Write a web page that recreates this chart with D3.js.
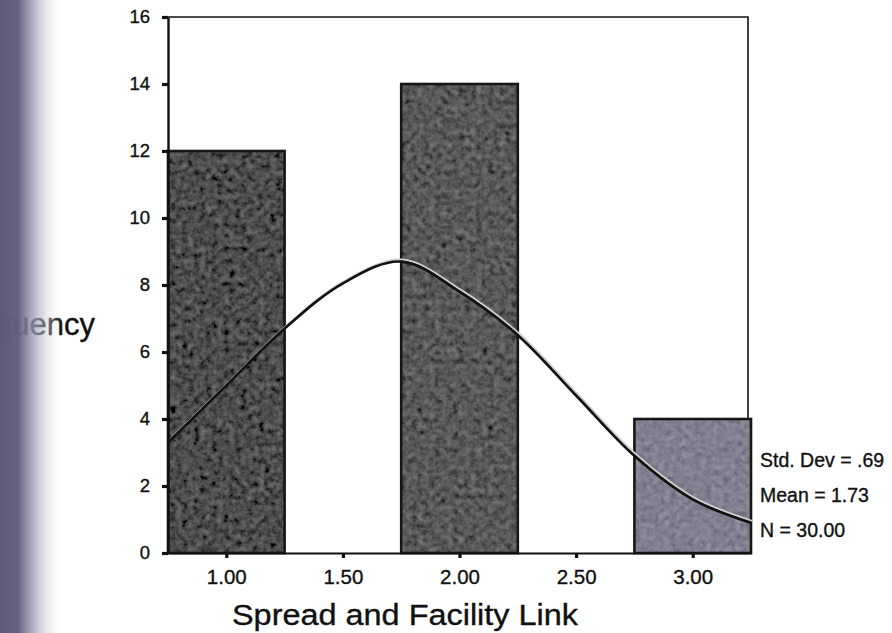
<!DOCTYPE html>
<html>
<head>
<meta charset="utf-8">
<script src="https://cdn.jsdelivr.net/npm/d3@7"></script>
<style>
  body { margin: 0; background: #fff; }
  svg text { font-family: "Liberation Sans", Arial, sans-serif; fill: #111; stroke: #111; stroke-width: 0.35px; }
</style>
</head>
<body>
<div id="chart"></div>
<script>
// histogram bins (centre of each bin) and counts
const binCenters = [1.0, 2.0, 3.0];
const counts = [12, 14, 4];
const binColors = ["#4d4d4d", "#595959", "#827f90"];
const binWidth = 0.5;

// normal curve
const curveX = [0.75, 1.0, 1.25, 1.5, 1.75, 2.0, 2.25, 2.5, 2.75, 3.0, 3.25];
const curveY = [3.3, 5.0, 6.7, 8.05, 8.7, 7.8, 6.5, 4.7, 2.9, 1.6, 0.9];

const yTicks = [0, 2, 4, 6, 8, 10, 12, 14, 16];
const xTicks = [1.0, 1.5, 2.0, 2.5, 3.0];
const statLines = ["Std. Dev = .69", "Mean = 1.73", "N = 30.00"];

const width = 892;
const height = 633;
const plotLeft = 168, plotRight = 751, plotTop = 17, plotBottom = 553;

const svg = d3.select("#chart")
  .append("svg")
  .attr("width", width)
  .attr("height", height);

const defs = svg.append("defs");

// blotchy print texture for the bars
const grain = defs.append("filter")
  .attr("id", "grain")
  .attr("x", 0).attr("y", 0).attr("width", 1).attr("height", 1);
grain.append("feTurbulence")
  .attr("type", "fractalNoise")
  .attr("baseFrequency", 0.17)
  .attr("numOctaves", 3)
  .attr("seed", 11)
  .attr("result", "noise");
grain.append("feColorMatrix")
  .attr("in", "noise")
  .attr("type", "matrix")
  .attr("values", "0.33 0.33 0.33 0 0  0.33 0.33 0.33 0 0  0.33 0.33 0.33 0 0  0 0 0 0 1")
  .attr("result", "grey");
grain.append("feComposite")
  .attr("in", "SourceGraphic")
  .attr("in2", "grey")
  .attr("operator", "arithmetic")
  .attr("k1", 0).attr("k2", 1).attr("k3", 0.38).attr("k4", -0.19)
  .attr("result", "mix");
grain.append("feComposite")
  .attr("in", "mix")
  .attr("in2", "SourceGraphic")
  .attr("operator", "in");

// dark scanner edge on the left
const band = defs.append("linearGradient")
  .attr("id", "band")
  .attr("x1", 0).attr("x2", 1).attr("y1", 0).attr("y2", 0);
[[0, "#5a5977", 1], [0.3, "#615f7d", 0.97], [0.55, "#9d9cb3", 0.75],
 [0.8, "#d8d8e3", 0.4], [1, "#ffffff", 0]].forEach((s) => {
  band.append("stop")
    .attr("offset", s[0])
    .attr("stop-color", s[1])
    .attr("stop-opacity", s[2]);
});

const xScale = d3.scaleLinear().domain([0.75, 3.25]).range([plotLeft, plotRight]);
const yScale = d3.scaleLinear().domain([0, 16]).range([plotBottom, plotTop]);

// frame (top and right)
svg.append("path")
  .attr("d", `M${plotLeft},${plotTop}H${plotRight - 3}V${plotBottom}`)
  .attr("fill", "none")
  .attr("stroke", "#111")
  .attr("stroke-width", 1.6);

// bars
const barX = (i) => xScale(binCenters[i] - binWidth / 2);
const barW = (i) => xScale(binCenters[i] + binWidth / 2) - xScale(binCenters[i] - binWidth / 2);

svg.selectAll("rect.bar")
  .data(counts)
  .enter()
  .append("rect")
  .attr("class", "bar")
  .attr("x", (d, i) => barX(i))
  .attr("y", (d) => yScale(d))
  .attr("width", (d, i) => barW(i))
  .attr("height", (d) => yScale(0) - yScale(d))
  .attr("fill", (d, i) => binColors[i])
  .attr("filter", "url(#grain)");

svg.selectAll("rect.edge")
  .data(counts)
  .enter()
  .append("rect")
  .attr("class", "edge")
  .attr("x", (d, i) => barX(i))
  .attr("y", (d) => yScale(d))
  .attr("width", (d, i) => barW(i))
  .attr("height", (d) => yScale(0) - yScale(d))
  .attr("fill", "none")
  .attr("stroke", "#161616")
  .attr("stroke-width", 2.6);

// normal curve
const line = d3.line()
  .x((d) => xScale(d[0]))
  .y((d) => yScale(d[1]))
  .curve(d3.curveCatmullRom.alpha(0.5));
const curvePoints = curveX.map((x, i) => [x, curveY[i]]);

svg.append("path")
  .datum(curvePoints)
  .attr("fill", "none")
  .attr("stroke", "#cfcfcf")
  .attr("stroke-width", 2)
  .attr("transform", "translate(1,-2)")
  .attr("d", line);

svg.append("path")
  .datum(curvePoints)
  .attr("fill", "none")
  .attr("stroke", "#111")
  .attr("stroke-width", 2.7)
  .attr("d", line);

// axes
const yAxis = d3.axisLeft(yScale)
  .tickValues(yTicks)
  .tickFormat(d3.format("d"))
  .tickSize(6)
  .tickSizeOuter(0)
  .tickPadding(12);

const gy = svg.append("g")
  .attr("transform", `translate(${plotLeft},0)`)
  .call(yAxis);
gy.select(".domain").attr("stroke", "#111").attr("stroke-width", 2.4);
gy.selectAll(".tick line").attr("stroke", "#111").attr("stroke-width", 3.2);
gy.selectAll(".tick text").attr("font-size", 18.5);

const xAxis = d3.axisBottom(xScale)
  .tickValues(xTicks)
  .tickFormat(d3.format(".2f"))
  .tickSize(5)
  .tickSizeOuter(0)
  .tickPadding(11);

const gx = svg.append("g")
  .attr("transform", `translate(0,${plotBottom})`)
  .call(xAxis);
gx.select(".domain").attr("stroke", "#111").attr("stroke-width", 2);
gx.selectAll(".tick line").attr("stroke", "#111").attr("stroke-width", 3.2);
gx.selectAll(".tick text").attr("font-size", 20.5);

// axis titles
svg.append("text")
  .attr("x", 232)
  .attr("y", 625)
  .attr("font-size", 29)
  .attr("textLength", 346)
  .attr("lengthAdjust", "spacingAndGlyphs")
  .text("Spread and Facility Link");

svg.append("text")
  .attr("x", 95)
  .attr("y", 335)
  .attr("text-anchor", "end")
  .attr("font-size", 31)
  .text("Frequency");

// statistics box
svg.selectAll("text.stat")
  .data(statLines)
  .enter()
  .append("text")
  .attr("class", "stat")
  .attr("x", 760)
  .attr("y", (d, i) => 467 + i * 35)
  .attr("font-size", 19.5)
  .text((d) => d);

// scanner edge drawn over everything
svg.append("rect")
  .attr("x", 0)
  .attr("y", 0)
  .attr("width", 62)
  .attr("height", height)
  .attr("fill", "url(#band)");
</script>
</body>
</html>
